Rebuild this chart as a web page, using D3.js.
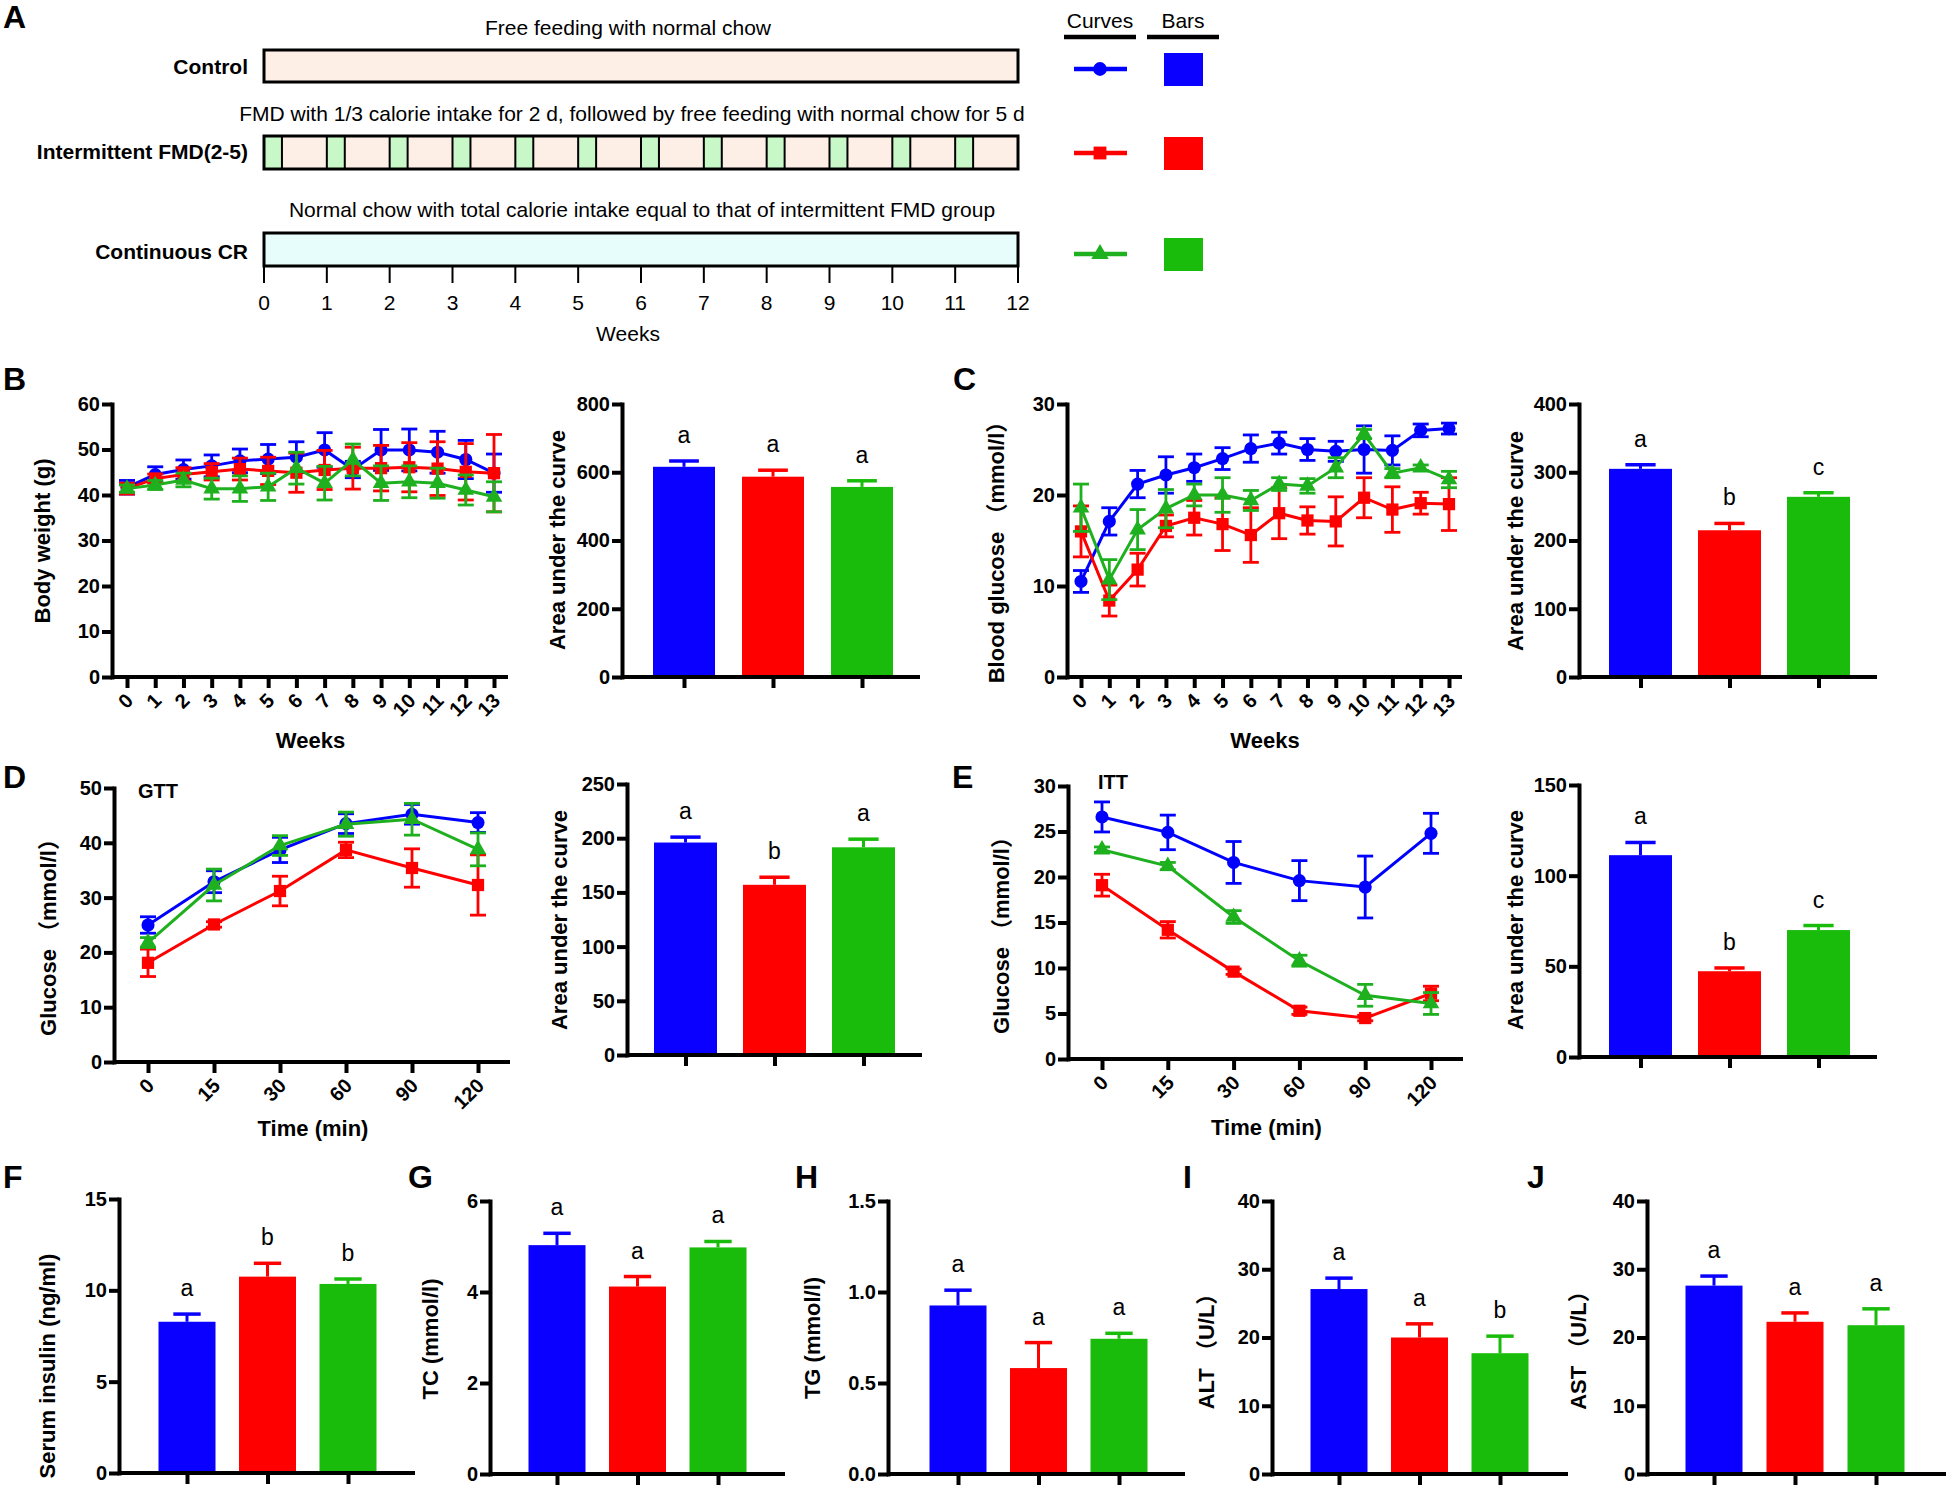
<!DOCTYPE html>
<html><head><meta charset="utf-8">
<script src="https://cdn.jsdelivr.net/npm/d3@7"></script>
<style>
body{margin:0;background:#fff;}
svg text{font-family:"Liberation Sans",Arial,"Noto Sans CJK SC",sans-serif;fill:#000;}
</style></head><body>
<svg id="chart" width="1946" height="1488"></svg>
<script>
// ---------------- DATA ----------------
const groups = ["Control", "Intermittent FMD(2-5)", "Continuous CR"];
const lineColors = ["#0000ff", "#ff0000", "#1fb01f"];
const barColors = ["#0a00ff", "#ff0000", "#19bc0b"];

// Panel A
const scheduleDescriptions = [
  "Free feeding with normal chow",
  "FMD with 1/3 calorie intake for 2 d, followed by free feeding with normal chow for 5 d",
  "Normal chow with total calorie intake equal to that of intermittent FMD group"
];
const scheduleTickLabels = [0,1,2,3,4,5,6,7,8,9,10,11,12];
const fmdStartWeeks = [0,1,2,3,4,5,6,7,8,9,10,11];
const fmdDays = 2;
const daysPerWeek = 7;
const legendHeaders = ["Curves", "Bars"];

// Panel B
const weekLabels = ["0","1","2","3","4","5","6","7","8","9","10","11","12","13"];
const bwMean = [
  [41.7,44.5,45.6,46.4,47.5,47.9,48.3,49.9,45.6,49.9,49.9,49.4,47.8,44.8],
  [41.4,43.6,44.5,45.1,45.7,45.3,44.9,45.5,45.9,45.9,46.1,45.8,45.1,44.8],
  [41.4,42.2,43.3,41.4,41.4,41.8,45.9,42.6,47.7,42.6,42.9,42.6,41.1,39.6]
];
const bwSem = [
  [1.5,1.7,2.1,2.4,2.6,3.2,3.4,3.8,1.8,4.5,4.6,4.6,4.2,4.2],
  [1.2,1.0,1.5,1.8,2.4,3.0,4.3,4.3,4.6,5.0,5.4,5.9,6.2,8.5],
  [0.8,1.0,1.5,2.3,2.8,3.0,3.5,3.7,3.5,3.8,3.5,3.3,3.3,3.3]
];
const bwTicks = [0,10,20,30,40,50,60];
const bwAuc = [616, 587, 557];
const bwAucSem = [17, 19, 18];
const bwAucLetters = ["a","a","a"];
const bwAucTicks = [0,200,400,600,800];

// Panel C
const bgMean = [
  [10.5,17.1,21.2,22.2,23.0,24.0,25.1,25.7,25.0,24.8,25.0,24.9,27.1,27.3],
  [16.0,8.4,11.8,16.6,17.5,16.8,15.6,18.0,17.2,17.1,19.7,18.4,19.1,19.0],
  [18.6,10.7,16.2,18.5,20.0,20.0,19.4,21.2,21.0,23.0,26.7,22.4,23.0,21.7]
];
const bgSem = [
  [1.2,1.5,1.5,2.0,1.5,1.2,1.5,1.2,1.2,1.1,2.6,1.6,0.7,0.6],
  [2.8,1.7,1.8,1.2,1.9,2.9,3.0,2.8,1.5,2.7,2.2,2.5,1.2,2.9],
  [2.6,2.2,2.2,2.1,1.2,1.9,1.1,0.7,0.8,1.1,0.5,0.5,0.3,0.9]
];
const bgTicks = [0,10,20,30];
const bgAuc = [305, 215, 264];
const bgAucSem = [6, 10, 6];
const bgAucLetters = ["a","b","c"];
const bgAucTicks = [0,100,200,300,400];

// Panel D (GTT)
const timeLabels = ["0","15","30","60","90","120"];
const gttMean = [
  [25.0,32.9,38.7,43.5,45.2,43.7],
  [18.1,25.1,31.2,38.7,35.4,32.3],
  [21.8,32.3,39.5,43.4,44.3,38.8]
];
const gttSem = [
  [1.5,2.0,2.3,1.8,1.8,1.8],
  [2.5,0.5,2.7,1.4,3.5,5.5],
  [0.9,2.9,1.8,2.2,2.9,3.0]
];
const gttTicks = [0,10,20,30,40,50];
const gttAuc = [196, 157, 191.6];
const gttAucSem = [5, 7, 7.5];
const gttAucLetters = ["a","b","a"];
const gttAucTicks = [0,50,100,150,200,250];

// Panel E (ITT)
const ittMean = [
  [26.6,24.9,21.6,19.6,18.9,24.8],
  [19.1,14.2,9.6,5.3,4.5,7.2],
  [23.0,21.2,15.6,10.8,7.0,6.1]
];
const ittSem = [
  [1.65,1.9,2.3,2.2,3.4,2.2],
  [1.2,0.9,0.3,0.4,0.3,0.8],
  [0.3,0.4,0.7,0.6,1.2,1.2]
];
const ittTicks = [0,5,10,15,20,25,30];
const ittAuc = [111.3, 47.3, 70];
const ittAucSem = [7, 1.8, 2.5];
const ittAucLetters = ["a","b","c"];
const ittAucTicks = [0,50,100,150];

// Panels F-J
const insulin = [8.28, 10.75, 10.35], insulinSem = [0.42, 0.73, 0.27], insulinLetters = ["a","b","b"], insulinTicks = [0,5,10,15];
const tc = [5.03, 4.12, 4.98], tcSem = [0.26, 0.22, 0.13], tcLetters = ["a","a","a"], tcTicks = [0,2,4,6];
const tg = [0.926, 0.582, 0.743], tgSem = [0.084, 0.14, 0.03], tgLetters = ["a","a","a"], tgTicks = [0,0.5,1.0,1.5];
const alt = [27.1, 20.0, 17.7], altSem = [1.6, 2.0, 2.5], altLetters = ["a","a","b"], altTicks = [0,10,20,30,40];
const ast = [27.6, 22.3, 21.8], astSem = [1.4, 1.3, 2.4], astLetters = ["a","a","a"], astTicks = [0,10,20,30,40];

// ---------------- DRAWING ----------------
const svg = d3.select("#chart");
const symbols = [d3.symbolCircle, d3.symbolSquare, d3.symbolTriangle];
const symSizes = [135, 150, 120];

function txt(x, y, s, size, weight, anchor) {
  return svg.append("text").attr("x", x).attr("y", y).text(s)
    .style("font-size", size + "px").style("font-weight", weight || "normal")
    .attr("text-anchor", anchor || "middle");
}
function vtitle(x, y, s) {
  svg.append("text").attr("transform", `translate(${x},${y}) rotate(-90)`)
    .attr("text-anchor", "middle").attr("dy", "0.35em").text(s)
    .style("font-size", "22px").style("font-weight", "bold");
}
function styleAxis(g) {
  g.selectAll("path.domain").attr("stroke", "#000").attr("stroke-width", 4).attr("stroke-linecap", "square");
  g.selectAll(".tick line").attr("stroke", "#000").attr("stroke-width", 4);
  g.selectAll(".tick text").attr("fill", "#000").style("font-size", "20px").style("font-weight", "bold");
}
function drawYAxis(L, y, ticks, fmt) {
  const g = svg.append("g").attr("transform", `translate(${L.axisX},0)`)
    .call(d3.axisLeft(y).tickValues(ticks).tickSize(10).tickPadding(2).tickSizeOuter(0).tickFormat(fmt || d3.format("d")));
  styleAxis(g);
}
function drawXBase(L, x, labels, rotate) {
  svg.append("line").attr("x1", L.axisX).attr("x2", L.xEnd).attr("y1", L.yBot).attr("y2", L.yBot)
    .attr("stroke", "#000").attr("stroke-width", 4);
  const g = svg.append("g").attr("transform", `translate(0,${L.yBot})`)
    .call(d3.axisBottom(x).tickSize(11).tickSizeOuter(0).tickFormat(labels ? (d => d) : (() => "")));
  g.select("path.domain").remove();
  styleAxis(g);
  if (rotate) {
    g.selectAll(".tick text").attr("x", 0).attr("y", 0).attr("dy", "0.35em")
      .attr("text-anchor", "end").attr("transform", `translate(2,20) rotate(-45)`);
  }
}

function lineChart(L, cats, means, sems, yMax, yTicks, yTitle, xTitle) {
  const x = d3.scalePoint().domain(cats).range([L.x0, L.x1]);
  const y = d3.scaleLinear().domain([0, yMax]).range([L.yBot, L.yTop]);
  drawXBase(L, x, true, true);
  drawYAxis(L, y, yTicks);
  means.forEach((m, gi) => {
    const col = lineColors[gi];
    const pts = cats.map((c, i) => ({ c, v: m[i], s: sems[gi][i] }));
    const g = svg.append("g");
    g.selectAll("line.eb").data(pts).join("line").attr("class", "eb")
      .attr("x1", d => x(d.c)).attr("x2", d => x(d.c))
      .attr("y1", d => y(d.v - d.s)).attr("y2", d => y(d.v + d.s))
      .attr("stroke", col).attr("stroke-width", 2.8);
    [1, -1].forEach(sg => {
      g.selectAll("line.cap" + (sg > 0 ? "u" : "d")).data(pts).join("line").attr("class", "cap" + (sg > 0 ? "u" : "d"))
        .attr("x1", d => x(d.c) - 8).attr("x2", d => x(d.c) + 8)
        .attr("y1", d => y(d.v + sg * d.s)).attr("y2", d => y(d.v + sg * d.s))
        .attr("stroke", col).attr("stroke-width", 2.8);
    });
    g.append("path").datum(pts)
      .attr("d", d3.line().x(d => x(d.c)).y(d => y(d.v)))
      .attr("fill", "none").attr("stroke", col).attr("stroke-width", 3);
    g.selectAll("path.sym").data(pts).join("path").attr("class", "sym")
      .attr("transform", d => `translate(${x(d.c)},${y(d.v)})`)
      .attr("d", d3.symbol(symbols[gi], symSizes[gi])).attr("fill", col);
  });
  vtitle(L.titleX, L.titleY, yTitle);
  txt((L.x0 + L.x1) / 2, L.xTitleY, xTitle, 22, "bold");
}

function barChart(L, vals, sems, letters, yMax, yTicks, fmt, yTitle) {
  const x = d3.scalePoint().domain(groups).range([L.c0, L.c2]);
  const y = d3.scaleLinear().domain([0, yMax]).range([L.yBot, L.yTop]);
  const data = groups.map((g, i) => ({ g, v: vals[i], s: sems[i], l: letters[i], col: barColors[i] }));
  const g = svg.append("g");
  g.selectAll("rect").data(data).join("rect")
    .attr("x", d => x(d.g) - L.bw / 2).attr("width", L.bw)
    .attr("y", d => y(d.v)).attr("height", d => L.yBot - y(d.v)).attr("fill", d => d.col);
  g.selectAll("line.eb").data(data).join("line").attr("class", "eb")
    .attr("x1", d => x(d.g)).attr("x2", d => x(d.g)).attr("y1", d => y(d.v)).attr("y2", d => y(d.v + d.s))
    .attr("stroke", d => d.col).attr("stroke-width", 3);
  g.selectAll("line.cap").data(data).join("line").attr("class", "cap")
    .attr("x1", d => x(d.g) - L.bw * 0.24).attr("x2", d => x(d.g) + L.bw * 0.24)
    .attr("y1", d => y(d.v + d.s)).attr("y2", d => y(d.v + d.s))
    .attr("stroke", d => d.col).attr("stroke-width", 3.5);
  g.selectAll("text.sig").data(data).join("text").attr("class", "sig")
    .attr("x", d => x(d.g)).attr("y", d => y(d.v + d.s) - 18)
    .attr("text-anchor", "middle").style("font-size", "23px").text(d => d.l);
  drawXBase(L, x, false, false);
  drawYAxis(L, y, yTicks, fmt);
  vtitle(L.titleX, L.titleY, yTitle);
}

// ---- Panel A ----
txt(3, 28, "A", 32, "bold", "start");
const xA = d3.scaleLinear().domain([0, 12]).range([264, 1018]);
const rowsA = [
  { label: groups[0], top: 50, bot: 82, textX: 628, textY: 35, labelY: 74, fill: "#fdeee6" },
  { label: groups[1], top: 136, bot: 169, textX: 632, textY: 121, labelY: 159, fill: "#fdeee6" },
  { label: groups[2], top: 233, bot: 266, textX: 642, textY: 217, labelY: 259, fill: "#e6fdfc" }
];
rowsA.forEach((r, i) => {
  txt(r.textX, r.textY, scheduleDescriptions[i], 21, "normal");
  txt(248, r.labelY, r.label, 21, "bold", "end");
  svg.append("rect").attr("x", xA(0)).attr("y", r.top).attr("width", xA(12) - xA(0)).attr("height", r.bot - r.top)
    .attr("fill", r.fill).attr("stroke", "none");
  if (i === 1) {
    svg.append("g").selectAll("rect").data(fmdStartWeeks).join("rect")
      .attr("x", d => xA(d)).attr("width", d => xA(d + fmdDays / daysPerWeek) - xA(d))
      .attr("y", r.top).attr("height", r.bot - r.top)
      .attr("fill", "#c8f8c8").attr("stroke", "#000").attr("stroke-width", 2);
  }
  svg.append("rect").attr("x", xA(0)).attr("y", r.top).attr("width", xA(12) - xA(0)).attr("height", r.bot - r.top)
    .attr("fill", "none").attr("stroke", "#000").attr("stroke-width", 3);
});
svg.append("g").selectAll("line").data(scheduleTickLabels).join("line")
  .attr("x1", d => xA(d)).attr("x2", d => xA(d)).attr("y1", 266).attr("y2", 283)
  .attr("stroke", "#000").attr("stroke-width", 2);
svg.append("g").selectAll("text").data(scheduleTickLabels).join("text")
  .attr("x", d => xA(d)).attr("y", 310).attr("text-anchor", "middle").style("font-size", "21px").text(d => d);
txt(628, 341, "Weeks", 21, "normal");

// legend
const legendX = [1100, 1183];
legendHeaders.forEach((h, i) => {
  txt(legendX[i], 28, h, 21, "normal");
  svg.append("line").attr("x1", legendX[i] - 36).attr("x2", legendX[i] + 36).attr("y1", 37).attr("y2", 37)
    .attr("stroke", "#000").attr("stroke-width", 4.5);
});
const legendRowY = [69, 153, 254];
groups.forEach((g, i) => {
  svg.append("line").attr("x1", 1074).attr("x2", 1127).attr("y1", legendRowY[i]).attr("y2", legendRowY[i])
    .attr("stroke", lineColors[i]).attr("stroke-width", 4.5);
  svg.append("path").attr("transform", `translate(1100,${legendRowY[i]})`)
    .attr("d", d3.symbol(symbols[i], symSizes[i] * 1.1)).attr("fill", lineColors[i]);
  svg.append("rect").attr("x", 1164).attr("y", legendRowY[i] - 16).attr("width", 39).attr("height", 33)
    .attr("fill", barColors[i]);
});

// ---- Panel labels ----
[["B", 3, 390], ["C", 953, 390], ["D", 3, 788], ["E", 952, 788],
 ["F", 3, 1188], ["G", 408, 1188], ["H", 795, 1188], ["I", 1183, 1188], ["J", 1527, 1188]]
  .forEach(p => txt(p[1], p[2], p[0], 32, "bold", "start"));

// ---- B ----
lineChart({ axisX: 112, xEnd: 508, x0: 127, x1: 494, yTop: 404, yBot: 677, titleX: 42, titleY: 541, xTitleY: 748 },
  weekLabels, bwMean, bwSem, 60, bwTicks, "Body weight (g)", "Weeks");
barChart({ axisX: 622, xEnd: 920, c0: 684, c2: 862, bw: 62, yTop: 404, yBot: 677, titleX: 557, titleY: 540 },
  bwAuc, bwAucSem, bwAucLetters, 800, bwAucTicks, null, "Area under the curve");

// ---- C ----
lineChart({ axisX: 1067, xEnd: 1462, x0: 1081, x1: 1449, yTop: 404, yBot: 677, titleX: 996, titleY: 547, xTitleY: 748 },
  weekLabels, bgMean, bgSem, 30, bgTicks, "Blood glucose （mmol/l）", "Weeks");
barChart({ axisX: 1579, xEnd: 1877, c0: 1640.5, c2: 1818.5, bw: 63, yTop: 404, yBot: 677, titleX: 1515, titleY: 541 },
  bgAuc, bgAucSem, bgAucLetters, 400, bgAucTicks, null, "Area under the curve");

// ---- D ----
lineChart({ axisX: 114, xEnd: 510, x0: 148, x1: 478, yTop: 788, yBot: 1062, titleX: 48, titleY: 932, xTitleY: 1136 },
  timeLabels, gttMean, gttSem, 50, gttTicks, "Glucose （mmol/l）", "Time (min)");
txt(138, 798, "GTT", 20, "bold", "start");
barChart({ axisX: 627, xEnd: 922, c0: 685.5, c2: 863.5, bw: 63, yTop: 784, yBot: 1055, titleX: 559, titleY: 920 },
  gttAuc, gttAucSem, gttAucLetters, 250, gttAucTicks, null, "Area under the curve");

// ---- E ----
lineChart({ axisX: 1068, xEnd: 1463, x0: 1102, x1: 1431, yTop: 786, yBot: 1059, titleX: 1001, titleY: 930, xTitleY: 1135 },
  timeLabels, ittMean, ittSem, 30, ittTicks, "Glucose （mmol/l）", "Time (min)");
txt(1098, 789, "ITT", 20, "bold", "start");
barChart({ axisX: 1579, xEnd: 1877, c0: 1640.5, c2: 1818.5, bw: 63, yTop: 785, yBot: 1057, titleX: 1515, titleY: 920 },
  ittAuc, ittAucSem, ittAucLetters, 150, ittAucTicks, null, "Area under the curve");

// ---- F-J ----
barChart({ axisX: 119, xEnd: 415, c0: 187, c2: 348, bw: 57, yTop: 1199, yBot: 1473, titleX: 47, titleY: 1366 },
  insulin, insulinSem, insulinLetters, 15, insulinTicks, null, "Serum insulin (ng/ml)");
barChart({ axisX: 490, xEnd: 785, c0: 557, c2: 718, bw: 57, yTop: 1201, yBot: 1474, titleX: 430, titleY: 1339 },
  tc, tcSem, tcLetters, 6, tcTicks, null, "TC (mmol/l)");
barChart({ axisX: 888, xEnd: 1185, c0: 958, c2: 1119, bw: 57, yTop: 1201, yBot: 1474, titleX: 812, titleY: 1338 },
  tg, tgSem, tgLetters, 1.5, tgTicks, d3.format(".1f"), "TG (mmol/l)");
barChart({ axisX: 1272, xEnd: 1568, c0: 1339, c2: 1500, bw: 57, yTop: 1201, yBot: 1474, titleX: 1206, titleY: 1346 },
  alt, altSem, altLetters, 40, altTicks, null, "ALT （U/L）");
barChart({ axisX: 1647, xEnd: 1946, c0: 1714, c2: 1876, bw: 57, yTop: 1201, yBot: 1474, titleX: 1578, titleY: 1345 },
  ast, astSem, astLetters, 40, astTicks, null, "AST （U/L）");
</script>
</body></html>
